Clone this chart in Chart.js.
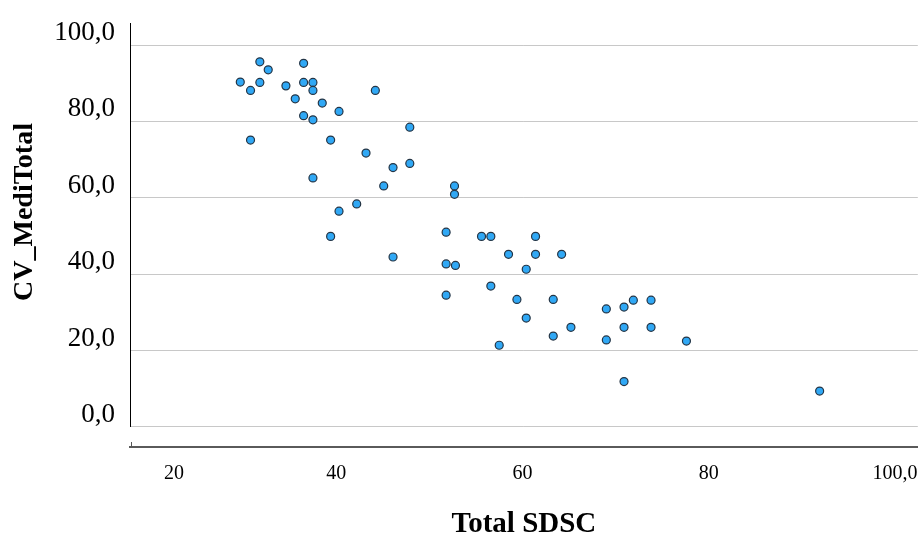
<!DOCTYPE html>
<html>
<head>
<meta charset="utf-8">
<script src="https://cdn.jsdelivr.net/npm/chart.js@4/dist/chart.umd.min.js"></script>
<style>
  html, body { margin: 0; padding: 0; background: #fff; }
  #wrap { width: 923px; height: 534px; position: relative; }
</style>
</head>
<body>
<div id="wrap"><canvas id="myChart"></canvas></div>
<script>
// Total SDSC (x) vs CV_MediTotal (y)
const sdsc = [29.7, 30.8, 30.8, 31.8, 31.8, 32.7, 34.6, 35.6, 36.5, 36.5,
  36.5, 37.5, 37.5, 37.5, 37.5, 38.5, 40.3, 39.4, 39.4, 40.3,
  42.2, 43.2, 44.2, 45.1, 46.1, 46.1, 47.9, 47.9, 51.8, 51.8,
  51.8, 52.7, 52.7, 52.8, 55.6, 56.6, 56.6, 57.5, 58.5, 59.4,
  60.4, 60.4, 61.4, 61.4, 63.3, 63.3, 64.2, 65.2, 69.0, 69.0,
  70.9, 70.9, 70.9, 71.9, 73.8, 73.8, 77.6, 91.9];
const mediTotal = [90.3, 88.1, 75.1, 95.6, 90.2, 93.5, 89.3, 85.9, 95.2, 90.2,
  81.5, 90.2, 88.1, 80.4, 65.2, 84.8, 82.6, 75.1, 49.9, 56.5,
  58.4, 71.7, 88.1, 63.1, 67.9, 44.5, 78.5, 69.0, 51.0, 42.7,
  34.5, 63.1, 60.9, 42.3, 49.9, 49.9, 36.9, 21.4, 45.2, 33.4,
  41.3, 28.5, 49.9, 45.2, 33.4, 23.8, 45.2, 26.1, 30.9, 22.8,
  31.4, 26.1, 11.9, 33.2, 33.2, 26.1, 22.5, 9.4];

const yTicks = [0, 20, 40, 60, 80, 100];
const xTicks = [20, 40, 60, 80, 100];
const xTickLabels = ['20', '40', '60', '80', '100,0'];

const points = sdsc.map((x, i) => ({ x: x, y: mediTotal[i] }));

// axis lines, x labels and axis titles drawn by hand
const axisPlugin = {
  id: 'axisPlugin',
  afterDraw(chart) {
    const ctx = chart.ctx;
    const area = chart.chartArea;
    const xs = chart.scales.x;
    const ys = chart.scales.y;
    ctx.save();
    // y axis line, stops at the 0 grid line
    ctx.strokeStyle = '#000';
    ctx.lineWidth = 1;
    ctx.beginPath();
    ctx.moveTo(area.left + 0.5, area.top);
    ctx.lineTo(area.left + 0.5, ys.getPixelForValue(0));
    ctx.stroke();
    // small tick at the start of the x axis
    ctx.strokeStyle = '#555';
    ctx.beginPath();
    ctx.moveTo(area.left + 1.5, area.bottom - 5);
    ctx.lineTo(area.left + 1.5, area.bottom);
    ctx.stroke();

    // x tick labels
    ctx.fillStyle = '#000';
    ctx.font = '20px "Liberation Serif", "Times New Roman", serif';
    ctx.textAlign = 'center';
    ctx.textBaseline = 'middle';
    xTicks.forEach((v, i) => {
      let px = xs.getPixelForValue(v);
      px = Math.max(px, area.left + 44);
      ctx.fillText(xTickLabels[i], px, area.bottom + 27);
    });

    // x title
    ctx.font = 'bold 29px "Liberation Serif", "Times New Roman", serif';
    ctx.textBaseline = 'alphabetic';
    ctx.fillText('Total SDSC', (area.left + area.right) / 2, 532);

    // y title
    ctx.translate(32, 212);
    ctx.rotate(-Math.PI / 2);
    ctx.font = 'bold 28px "Liberation Serif", "Times New Roman", serif';
    ctx.textBaseline = 'alphabetic';
    ctx.fillText('CV_MediTotal', 0, 0);
    ctx.restore();
  }
};

document.addEventListener("DOMContentLoaded", function(){
  const ctx = document.getElementById('myChart').getContext('2d');
  new Chart(ctx, {
    type: 'scatter',
    data: {
      datasets: [{
        label: 'CV_MediTotal',
        data: points,
        backgroundColor: '#30a8f5',
        borderColor: '#253545',
        borderWidth: 1.2,
        pointRadius: 4,
        pointHoverRadius: 4
      }]
    },
    options: {
      responsive: true,
      maintainAspectRatio: false,
      animation: false,
      layout: { padding: { top: 23, right: 3, left: 0, bottom: 0 } },
      plugins: {
        legend: { display: false },
        tooltip: { enabled: false }
      },
      scales: {
        x: {
          type: 'linear',
          min: 17.86,
          max: 102.44,
          afterFit: (scale) => {
            scale.height = 87;
            scale.paddingLeft = 0;
            scale.paddingRight = 0;
          },
          grid: { display: false, drawTicks: false },
          border: { display: true, color: '#5a5a5a', width: 2 },
          ticks: { display: false }
        },
        y: {
          type: 'linear',
          min: -5.24,
          max: 105.76,
          afterBuildTicks: (scale) => { scale.ticks = yTicks.map(v => ({ value: v })); },
          afterFit: (scale) => {
            scale.width = 130;
            scale.paddingTop = 0;
            scale.paddingBottom = 0;
          },
          grid: { color: '#c8c8c8', lineWidth: 1, drawTicks: false },
          border: { display: false },
          ticks: {
            padding: 15,
            labelOffset: -12,
            color: '#000',
            font: { family: '"Liberation Serif", "Times New Roman", serif', size: 27 },
            callback: (v) => v.toFixed(1).replace('.', ',')
          }
        }
      }
    },
    plugins: [axisPlugin]
  });
});
</script>
</body>
</html>
